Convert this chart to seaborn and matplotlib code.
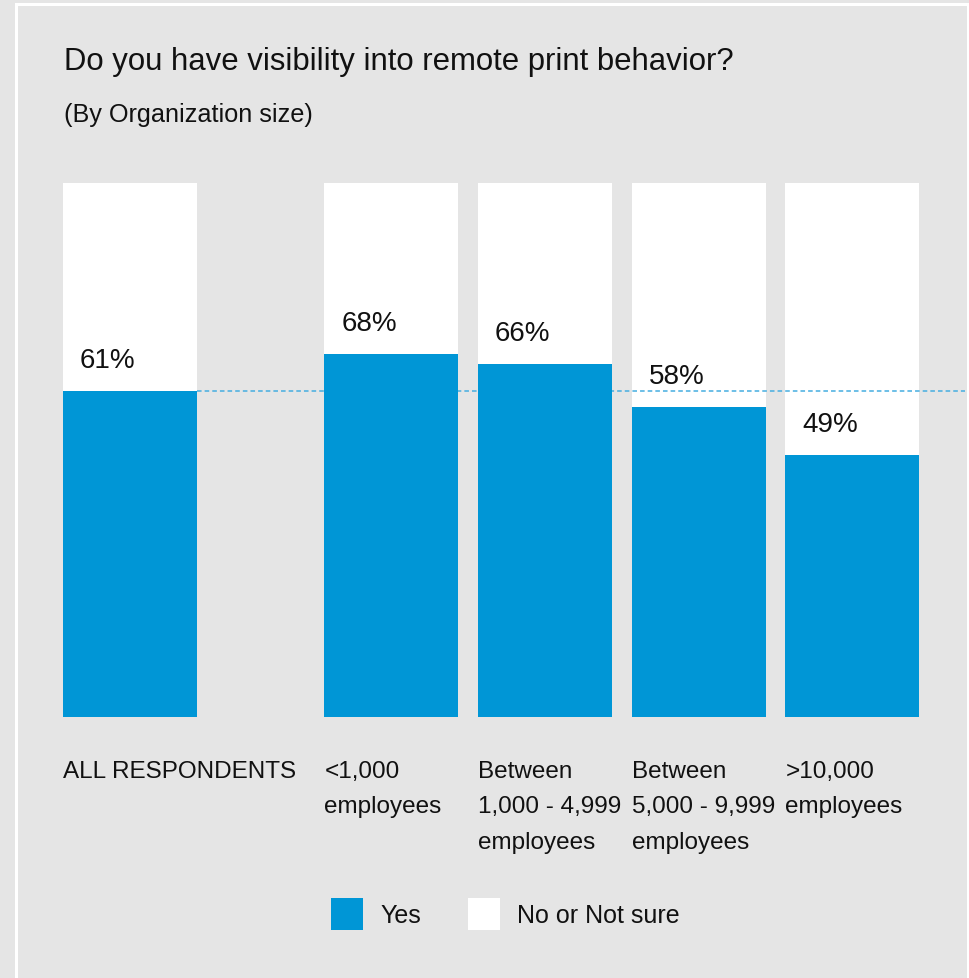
import numpy as np
import pandas as pd
import matplotlib
matplotlib.use("Agg")
import matplotlib.pyplot as plt
import matplotlib.patches as mpatches
import seaborn as sns

# ---- data ----
categories = ["ALL RESPONDENTS", "<1,000\nemployees", "Between\n1,000 - 4,999\nemployees",
              "Between\n5,000 - 9,999\nemployees", ">10,000\nemployees"]
yes_values = [61, 68, 66, 58, 49]
total_values = [100, 100, 100, 100, 100]
series_names = ["Yes", "No or Not sure"]
title = "Do you have visibility into remote print behavior?"
subtitle = "(By Organization size)"

# ---- style ----
sns.set_theme(style="white")
plt.rcParams["font.family"] = ["Liberation Sans", "DejaVu Sans"]
BG = "#e5e5e5"
BLUE = "#0096d6"
W, H = 970, 979

# layout: gap after the first bar
positions = np.array([0.0, 1.7, 2.7, 3.7, 4.7])
unit = 153.7     # pixels per x unit
bar_w = 134 / unit

df = pd.DataFrame({"pos": positions, "yes": yes_values, "total": total_values,
                   "cat": categories})

fig = plt.figure(figsize=(W / 100, H / 100), dpi=100, facecolor=BG)
ax = fig.add_axes([0, (H - 717.5) / H, 1, 533.5 / H])
ax.set_facecolor(BG)

sns.barplot(data=df, x="pos", y="total", native_scale=True, color="white",
            width=bar_w, errorbar=None, saturation=1, ax=ax, zorder=1, linewidth=0)
sns.barplot(data=df, x="pos", y="yes", native_scale=True, color=BLUE,
            width=bar_w, errorbar=None, saturation=1, ax=ax, zorder=3, linewidth=0)

x_left = -130 / unit
x_right = x_left + W / unit
ax.set_xlim(x_left, x_right)
ax.set_ylim(0, 100)
ax.set_axis_off()

# reference line at overall value
ax.hlines(yes_values[0], positions[0] + bar_w / 2, (965 - 130) / unit,
          colors="#45aee0", linestyles=(0, (3, 2)), linewidth=1.1, zorder=2)

# value labels
for p, v in zip(positions, yes_values):
    ax.text(p - bar_w / 2 + 17 / unit, v + 4.5, f"{v}%", fontsize=20,
            color="#111111", ha="left", va="baseline", zorder=4)

# category labels
for p, c in zip(positions, categories):
    ax.text(p - bar_w / 2, -(760 - 717) / 5.33, c, fontsize=17.5, color="#111111",
            ha="left", va="top", linespacing=1.8, zorder=4)

# titles
fig.text(64 / W, 1 - 70 / H, title, fontsize=22.4, color="#111111", ha="left", va="baseline")
fig.text(64 / W, 1 - 122 / H, subtitle, fontsize=18.2, color="#111111", ha="left", va="baseline")

# legend
for x0, col, name, tx in [(331, BLUE, series_names[0], 380), (468, "white", series_names[1], 517)]:
    fig.patches.append(mpatches.Rectangle((x0 / W, 1 - 931 / H), 32 / W, 32 / H,
                                          transform=fig.transFigure, facecolor=col,
                                          edgecolor="none", figure=fig))
    fig.text(tx / W, 1 - 916 / H, name, fontsize=18, color="#111111", ha="left", va="center")

# white frame
fig.patches.append(mpatches.Rectangle((16.5 / W, -0.05), (968 - 16.5) / W, (1 - 5 / H) + 0.05,
                                      transform=fig.transFigure, facecolor="none",
                                      edgecolor="white", linewidth=2.2, figure=fig))

fig.savefig("out.png", dpi=100, facecolor=BG)
